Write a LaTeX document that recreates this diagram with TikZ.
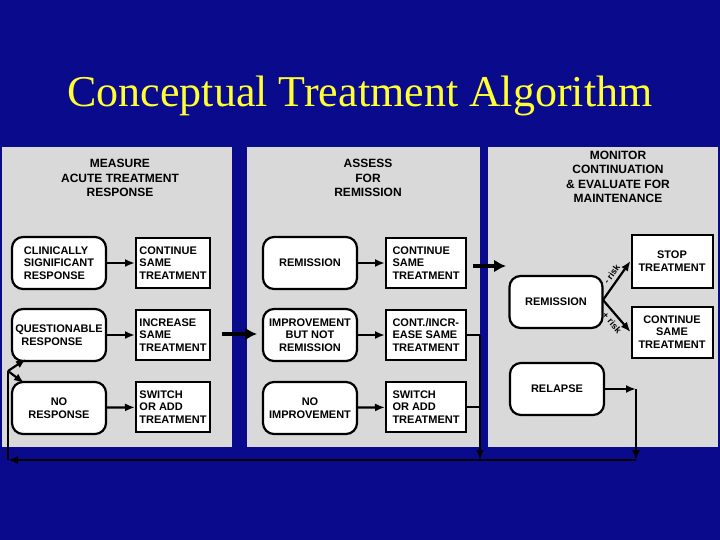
\documentclass[tikz,border=0pt]{standalone}
\usepackage{fontspec}
\setmainfont{Liberation Sans}
\newfontfamily\titlefont{Liberation Serif}
\usetikzlibrary{arrows.meta}
\definecolor{bgblue}{HTML}{0A0A8C}
\definecolor{panel}{HTML}{D9D9D9}
\definecolor{ttl}{HTML}{FFFF33}
\begin{document}
\begin{tikzpicture}[x=1pt,y=-1pt,
  txt/.style={font=\fontsize{11}{12.5}\selectfont\bfseries,align=left},
  rnd/.style={draw,line width=2.2pt,fill=white,rounded corners=11pt,txt,inner sep=0pt},
  rct/.style={draw,line width=2pt,fill=white,txt,inner sep=0pt},
  hdr/.style={font=\fontsize{12}{14.5}\selectfont\bfseries,align=center},
  arr/.style={line width=2.2pt,-{Latex[length=10pt,width=8pt]}},
  big/.style={line width=4.5pt,-{Latex[length=12pt,width=13pt]}},
  ln/.style={line width=2.2pt},
  risk/.style={font=\fontsize{9}{10}\selectfont\bfseries,sloped,inner sep=1pt}]
\useasboundingbox (0,0) rectangle (720,540);
\fill[bgblue] (0,0) rectangle (720,540);
\node[text=ttl,font=\titlefont\fontsize{44}{48}\selectfont] (title) at (360,96) {Conceptual Treatment Algorithm};
\fill[panel] (2,147) rectangle (232,447);
\fill[panel] (247,147) rectangle (480,447);
\fill[panel] (488,147) rectangle (718,447);
\node[hdr] (h1) at (120,178) {MEASURE\\ACUTE TREATMENT\\RESPONSE};
\node[hdr] (h2) at (368,178) {ASSESS\\FOR\\REMISSION};
\node[hdr] (h3) at (618,177) {MONITOR\\CONTINUATION\\\& EVALUATE FOR\\MAINTENANCE};
% left column
\node[rnd,minimum width=94pt,minimum height=52pt] (a1) at (59,263) {CLINICALLY\\SIGNIFICANT\\RESPONSE};
\node[rnd,minimum width=94pt,minimum height=52pt] (a2) at (59,335) {QUESTIONABLE\\\ \ RESPONSE};
\node[rnd,minimum width=94pt,minimum height=52pt,align=center] (a3) at (59,408) {NO\\RESPONSE};
\node[rct,minimum width=74pt,minimum height=50pt] (b1) at (173,263) {CONTINUE\\SAME\\TREATMENT};
\node[rct,minimum width=74pt,minimum height=50pt] (b2) at (173,335) {INCREASE\\SAME\\TREATMENT};
\node[rct,minimum width=74pt,minimum height=50pt] (b3) at (173,407) {SWITCH\\OR ADD\\TREATMENT};
\foreach \i in {1,2,3} \draw[arr] (a\i) -- (b\i);
% middle column
\node[rnd,minimum width=94pt,minimum height=52pt] (c1) at (310,263) {REMISSION};
\node[rnd,minimum width=94pt,minimum height=52pt,align=center] (c2) at (310,335) {IMPROVEMENT\\BUT NOT\\REMISSION};
\node[rnd,minimum width=94pt,minimum height=52pt,align=center] (c3) at (310,408) {NO\\IMPROVEMENT};
\node[rct,minimum width=80pt,minimum height=50pt] (d1) at (426,263) {CONTINUE\\SAME\\TREATMENT};
\node[rct,minimum width=80pt,minimum height=50pt] (d2) at (426,335) {CONT./INCR-\\EASE SAME\\TREATMENT};
\node[rct,minimum width=80pt,minimum height=50pt] (d3) at (426,407) {SWITCH\\OR ADD\\TREATMENT};
\foreach \i in {1,2,3} \draw[arr] (c\i) -- (d\i);
% right column
\node[rnd,minimum width=93pt,minimum height=52pt] (e1) at (556,302) {REMISSION};
\node[rnd,minimum width=94pt,minimum height=52pt] (e2) at (557,389) {RELAPSE};
\node[rct,minimum width=81pt,minimum height=53pt,align=center] (f1) at (672,261) {STOP\\TREATMENT};
\node[rct,minimum width=81pt,minimum height=51pt,align=center] (f2) at (672,332) {CONTINUE\\SAME\\TREATMENT};
\coordinate (r0) at (603,300);
\draw[arr] (r0) -- node[risk,above=2.5pt,pos=0.55] {- risk} (f1.west);
\draw[arr] (r0) -- node[risk,below=2.5pt,pos=0.55] {+ risk} (f2.west);
% big arrows
\coordinate (g1) at (222,334); \coordinate (g2) at (257,334);
\coordinate (k1) at (473,266); \coordinate (k2) at (506,266);
\draw[big] (g1) -- (g2);
\draw[big] (k1) -- (k2);
% feedback
\coordinate (m2) at (480,460);
\coordinate (n1) at (636,389); \coordinate (n2) at (636,460);
\coordinate (p0) at (8,460); \coordinate (p1) at (8,371);
\coordinate (q2) at (26,359); \coordinate (q3) at (24,383);
\draw[ln] (d2.east) -- (d2.east -| m2);
\draw[ln] (d3.east) -- (d3.east -| m2);
\draw[arr] (d2.east -| m2) -- (m2);
\draw[arr] (e2.east) -- (n1);
\draw[arr] (n1) -- (n2);
\draw[arr] (n2) -- (p0);
\draw[ln] (p0) -- (p1);
\draw[arr] (p1) -- (q2);
\draw[arr] (p1) -- (q3);
\end{tikzpicture}
\end{document}
